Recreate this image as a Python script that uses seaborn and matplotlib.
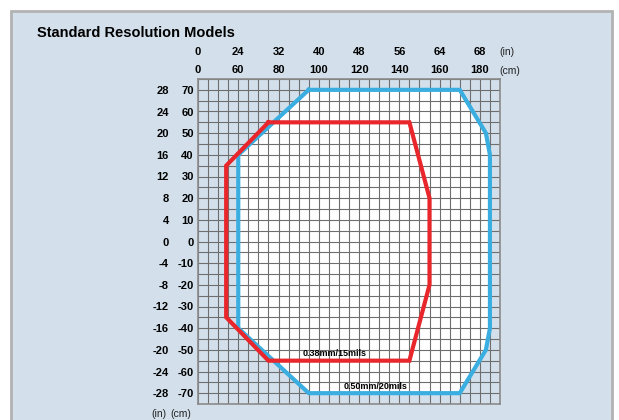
import numpy as np
import pandas as pd
import matplotlib
matplotlib.use('Agg')
import matplotlib.pyplot as plt
import seaborn as sns
from matplotlib.patches import Rectangle
from matplotlib.ticker import MultipleLocator

# reading zones in cm (grid of 5 cm cells, left edge of grid = 40 cm)
blue_x = [95, 170, 183, 185, 185, 183, 170, 95, 60, 60, 95]
blue_y = [70, 70, 50, 40, -40, -50, -70, -70, -40, 40, 70]
red_x = [75, 145, 155, 155, 145, 75, 54, 54, 75]
red_y = [55, 55, 20, -20, -55, -55, -35, 35, 55]

blue_name = '0.50mm/20mils'
red_name = '0.38mm/15mils'

# tick labels
x_ticks = [40, 60, 80, 100, 120, 140, 160, 180]
x_cm_labels = ['0', '60', '80', '100', '120', '140', '160', '180']
x_in_labels = ['0', '24', '32', '40', '48', '56', '64', '68']
y_ticks = [70, 60, 50, 40, 30, 20, 10, 0, -10, -20, -30, -40, -50, -60, -70]
y_cm_labels = ['70', '60', '50', '40', '30', '20', '10', '0',
               '-10', '-20', '-30', '-40', '-50', '-60', '-70']
y_in_labels = ['28', '24', '20', '16', '12', '8', '4', '0',
               '-4', '-8', '-12', '-16', '-20', '-24', '-28']

panel_col = '#d3e0eb'
grid_col = '#6e6e6e'
blue_col = '#3aaee0'
red_col = '#e8262b'

sns.set_style('white')
plt.rcParams['font.family'] = ['Liberation Sans Narrow', 'Liberation Sans', 'DejaVu Sans']
plt.rcParams['text.color'] = 'black'
plt.rcParams['xtick.color'] = 'black'
plt.rcParams['ytick.color'] = 'black'

W, H = 619, 420
fig = plt.figure(figsize=(W / 100, H / 100), dpi=100)
fig.patch.set_facecolor('white')
fig.patches.append(Rectangle((11 / W, -0.1), (612 - 11) / W, (H - 11) / H + 0.1,
                             transform=fig.transFigure, facecolor=panel_col,
                             edgecolor='#b2b2b2', lw=2, zorder=-5))

fig.text(37 / W, 1 - 33 / H, 'Standard Resolution Models', fontsize=10.5,
         fontweight='bold', va='center', ha='left', color='black')

ax = fig.add_axes([198 / W, 1 - 404 / H, 302 / W, 325 / H])
ax.set_facecolor(panel_col)

df = pd.concat([
    pd.DataFrame({'x': blue_x, 'y': blue_y, 'zone': blue_name}),
    pd.DataFrame({'x': red_x, 'y': red_y, 'zone': red_name}),
], ignore_index=True)

ax.fill(blue_x, blue_y, color='white', zorder=0.2, lw=0)
sns.lineplot(data=df, x='x', y='y', hue='zone', units='zone', sort=False,
             estimator=None, palette={blue_name: blue_col, red_name: red_col},
             lw=3, legend=False, ax=ax, zorder=3,
             solid_joinstyle='miter', solid_capstyle='projecting')

ax.text(108, -51.5, red_name, fontsize=6.5, fontweight='bold', ha='center', va='center', zorder=4)
ax.text(128, -67, blue_name, fontsize=6.5, fontweight='bold', ha='center', va='center', zorder=4)

ax.set_xlim(40, 190)
ax.set_ylim(-75, 75)
ax.set_xlabel('')
ax.set_ylabel('')

ax.xaxis.tick_top()
ax.set_xticks(x_ticks, x_cm_labels)
ax.set_yticks(y_ticks, y_cm_labels)
ax.xaxis.set_minor_locator(MultipleLocator(5))
ax.yaxis.set_minor_locator(MultipleLocator(5))
ax.grid(which='both', color=grid_col, lw=0.8)
ax.tick_params(which='both', length=0, labelsize=8)
ax.tick_params(axis='x', pad=3)
ax.tick_params(axis='y', pad=3)
for lab in ax.get_xticklabels() + ax.get_yticklabels():
    lab.set_fontweight('bold')
for s in ax.spines.values():
    s.set_color('#8a8a8a')
    s.set_linewidth(1.2)

secx = ax.secondary_xaxis('top')
secx.set_xticks(x_ticks, x_in_labels)
secx.tick_params(length=0, pad=16, labelsize=8)
secx.spines['top'].set_visible(False)
for lab in secx.get_xticklabels():
    lab.set_fontweight('bold')

secy = ax.secondary_yaxis('left')
secy.set_yticks(y_ticks, y_in_labels)
secy.tick_params(length=0, pad=21, labelsize=8)
secy.spines['left'].set_visible(False)
for lab in secy.get_yticklabels():
    lab.set_fontweight('bold')

# unit labels
fig.text(499 / W, 1 - 52 / H, '(in)', fontsize=7.5, va='center', ha='left', color='#222222')
fig.text(499 / W, 1 - 71 / H, '(cm)', fontsize=7.5, va='center', ha='left', color='#222222')
fig.text(159 / W, 1 - 414 / H, '(in)', fontsize=7.5, va='center', ha='center', color='#222222')
fig.text(181 / W, 1 - 414 / H, '(cm)', fontsize=7.5, va='center', ha='center', color='#222222')

fig.savefig('out.png', dpi=100, facecolor='white')
